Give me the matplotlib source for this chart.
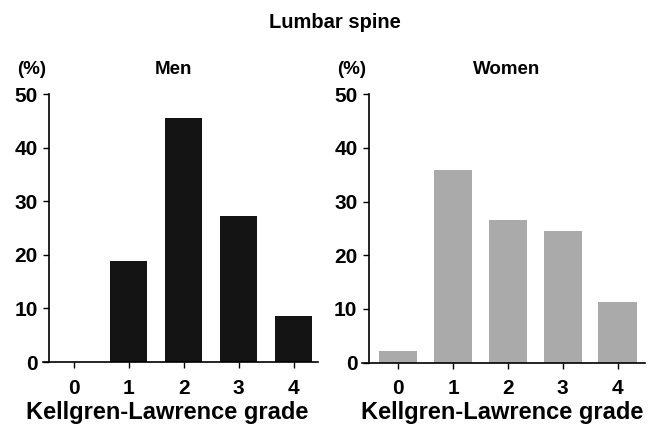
import numpy as np
import matplotlib.pyplot as plt

plt.rcParams['font.family'] = ['Liberation Sans', 'DejaVu Sans']
plt.rcParams['font.weight'] = 'bold'

grades = [0, 1, 2, 3, 4]
men = [0.0, 18.9, 45.6, 27.3, 8.6]
women = [2.1, 35.8, 26.5, 24.5, 11.2]

fig = plt.figure(figsize=(6.49, 4.26), dpi=100)

panels = [
    # rect, values, colour, bar width, xlim, spine pos, title, title x, (%) x
    ([43 / 649, 1 - 362 / 426, (318 - 43) / 649, (362 - 94) / 426], men, '#141414', 0.67,
     (-0.56, 4.44), -0.45, 'Men', 173, 32),
    ([362 / 649, 1 - 362.5 / 426, (645 - 362) / 649, (362.5 - 94.3) / 426], women, '#aaaaaa', 0.70,
     (-0.66, 4.5), -0.54, 'Women', 507, 352),
]

for rect, vals, col, w, xl, spos, name, tx, px in panels:
    ax = fig.add_axes(rect)
    ax.bar(grades, vals, width=w, color=col, edgecolor='none')
    ax.set_xlim(*xl)
    ax.set_ylim(0, 50)
    ax.set_yticks([0, 10, 20, 30, 40, 50])
    ax.set_xticks(grades)
    ax.spines['top'].set_visible(False)
    ax.spines['right'].set_visible(False)
    ax.spines['left'].set_position(('data', spos))
    ax.spines['left'].set_linewidth(1.2)
    ax.spines['bottom'].set_linewidth(1.2)
    ax.tick_params(axis='both', labelsize=15, width=1, length=4, direction='out')
    ax.tick_params(axis='y', pad=4)
    ax.tick_params(axis='x', pad=8)
    for lab in ax.get_xticklabels() + ax.get_yticklabels():
        lab.set_fontweight('bold')
    fig.text(tx / 649, 1 - 70 / 426, name, ha='center', va='center', fontsize=13.5, fontweight='bold')
    fig.text(px / 649, 1 - 70 / 426, '(%)', ha='center', va='center', fontsize=13.5, fontweight='bold')

fig.text(167 / 649, 1 - 412 / 426, 'Kellgren-Lawrence grade', ha='center', va='center',
         fontsize=17, fontweight='bold')
fig.text(502 / 649, 1 - 412 / 426, 'Kellgren-Lawrence grade', ha='center', va='center',
         fontsize=17, fontweight='bold')
fig.text(335 / 649, 1 - 22 / 426, 'Lumbar spine', ha='center', va='center',
         fontsize=14.5, fontweight='bold')

fig.savefig('out.png', dpi=100)
